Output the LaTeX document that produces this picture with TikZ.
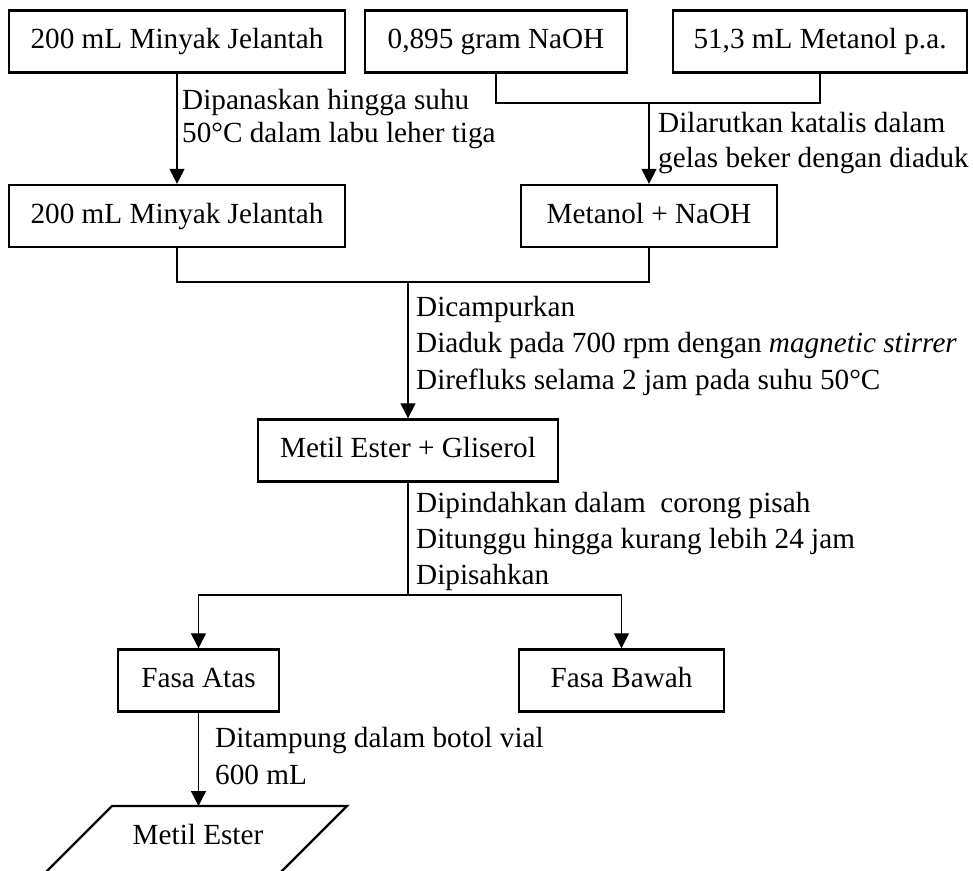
\documentclass[tikz,border=0pt]{standalone}
\usepackage{fontspec}
\setmainfont{Liberation Serif}
\usetikzlibrary{arrows.meta}
\begin{document}
\begin{tikzpicture}[x=1pt,y=-1pt,
  box/.style={draw,line width=2.4pt,minimum height=62pt,inner sep=0pt,
    text height=20pt,text depth=6pt,
    font=\fontsize{29.2}{35}\selectfont},
  lbl/.style={anchor=north west,inner sep=0pt,align=left},
  con/.style={line width=1.3pt},
  arr/.style={con,-{Triangle[width=15pt,length=15pt]}},
]
\useasboundingbox (0,0) rectangle (973,870);
% boxes
\node[box,minimum width=336pt] (oil1) at (177,41.5) {200 mL Minyak Jelantah};
\node[box,minimum width=262pt] (naoh) at (496,41.5) {0,895 gram NaOH};
\node[box,minimum width=294pt] (met) at (820,41.5) {51,3 mL Metanol p.a.};
\node[box,minimum width=336pt] (oil2) at (177,216) {200 mL Minyak Jelantah};
\node[box,minimum width=256pt] (mix) at (649,216) {Metanol + NaOH};
\node[box,minimum width=300pt] (ester) at (408,450.5) {Metil Ester + Gliserol};
\node[box,minimum width=161pt] (atas) at (198.5,680.5) {Fasa Atas};
\node[box,minimum width=205pt] (bawah) at (621.5,680.5) {Fasa Bawah};
% output parallelogram
\draw[line width=2.4pt] (112,806) -- (347,806) -- (280,873) -- (45,873) -- cycle;
\node[font=\fontsize{29.2}{35}\selectfont,inner sep=0pt,text height=20pt,text depth=6pt] (prod) at (198,837) {Metil Ester};
\coordinate (ptop) at (198.5,806);
% junctions
\coordinate (j1) at (649,103);
\coordinate (j2) at (408,282);
\coordinate (j3) at (408,595);
% connectors
\draw[arr] (oil1) -- (oil2);
\draw[con] (naoh.south) |- (j1) -| (met.south);
\draw[arr] (j1) -- (mix.north);
\draw[con] (oil2.south) |- (j2) -| (mix.south);
\draw[arr] (j2) -- (ester.north);
\draw[con] (ester.south) -- (j3);
\draw[arr] (j3) -| (atas.north);
\draw[arr] (j3) -| (bawah.north);
\draw[arr] (atas.south) -- (ptop);
% labels
\node[lbl,font=\fontsize{29.2}{33.5}\selectfont] (l1) at (182,89)
  {Dipanaskan hingga suhu\\50\textdegree C dalam labu leher tiga};
\node[lbl,font=\fontsize{29.2}{35}\selectfont] (l2) at (658,112)
  {Dilarutkan katalis dalam\\gelas beker dengan diaduk};
\node[lbl,font=\fontsize{29.2}{36.5}\selectfont] (l3) at (416,296)
  {Dicampurkan\\Diaduk pada 700 rpm dengan \textit{magnetic stirrer}\\Direfluks selama 2 jam pada suhu 50\textdegree C};
\node[lbl,font=\fontsize{29.2}{36}\selectfont] (l4) at (416,492)
  {Dipindahkan dalam\ \ corong pisah\\Ditunggu hingga kurang lebih 24 jam\\Dipisahkan};
\node[lbl,font=\fontsize{29.2}{37}\selectfont] (l5) at (215,727)
  {Ditampung dalam botol vial\\600 mL};
\end{tikzpicture}
\end{document}
